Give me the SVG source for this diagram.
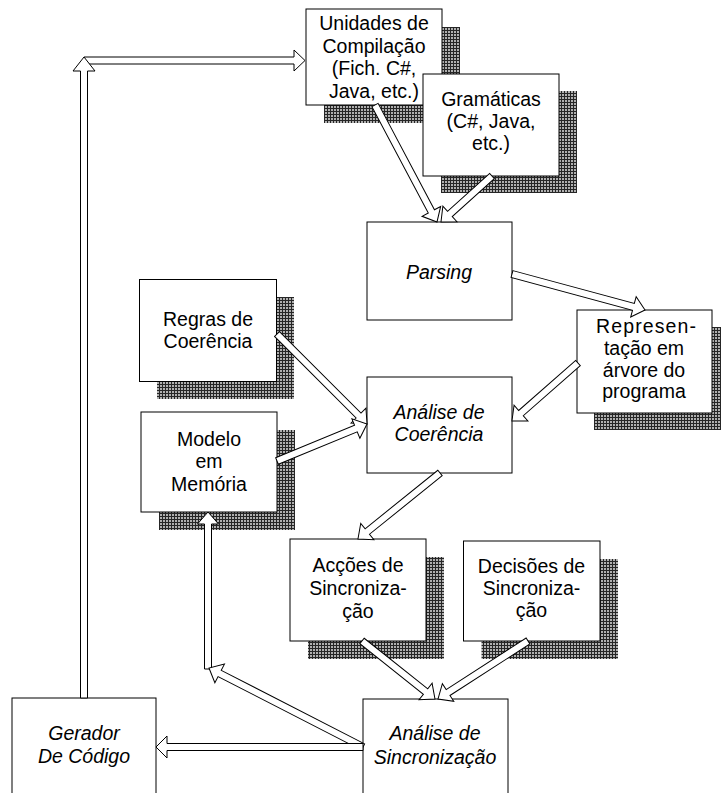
<svg xmlns="http://www.w3.org/2000/svg" width="721" height="793" viewBox="0 0 721 793">
<defs>
<pattern id="hatch" width="3" height="3" patternUnits="userSpaceOnUse">
<rect width="3" height="3" fill="#b0b0b0"/>
<rect width="3" height="1" fill="#262626"/>
<rect width="1" height="3" fill="#262626"/>
</pattern>
</defs>
<style>
.box{fill:#fff;stroke:#000;stroke-width:1}
.shadow{fill:url(#hatch)}
.t{font-family:"Liberation Sans",Arial,sans-serif;font-size:19.5px;fill:#000;text-anchor:middle}
.i{font-style:italic}
.arr{fill:#fff;stroke:#000;stroke-width:1;stroke-linejoin:miter}
</style>
<rect width="721" height="793" fill="#fff"/>

<g id="unidades">
<rect class="shadow" x="324" y="27" width="136" height="96"/>
<rect class="box" x="306" y="9" width="136" height="96"/>
<text class="t" x="374" y="30">Unidades de</text>
<text class="t" x="374" y="52.5">Compilação</text>
<text class="t" x="374" y="75">(Fich. C#,</text>
<text class="t" x="374" y="97.5">Java, etc.)</text>
</g>

<g id="gramaticas">
<rect class="shadow" x="441" y="91" width="136" height="102"/>
<rect class="box" x="423" y="74" width="136" height="102"/>
<text class="t" x="491" y="106">Gramáticas</text>
<text class="t" x="491" y="128">(C#, Java,</text>
<text class="t" x="491" y="150">etc.)</text>
</g>

<g id="parsing">
<rect class="box" x="367" y="222" width="145" height="98"/>
<text class="t i" x="439" y="279">Parsing</text>
</g>

<g id="representacao">
<rect class="shadow" x="594" y="327" width="135" height="103"/>
<rect class="box" x="577" y="310" width="135" height="103"/>
<text class="t" x="646" y="333" textLength="100" lengthAdjust="spacing">Represen-</text>
<text class="t" x="644" y="355">tação em</text>
<text class="t" x="644" y="377">árvore do</text>
<text class="t" x="644" y="398">programa</text>
</g>

<g id="regras">
<rect class="shadow" x="157" y="297" width="137" height="102"/>
<rect class="box" x="139.5" y="279.5" width="137" height="102"/>
<text class="t" x="208" y="326">Regras de</text>
<text class="t" x="208" y="348">Coerência</text>
</g>

<g id="analise-coerencia">
<rect class="box" x="367" y="377" width="145" height="96"/>
<text class="t i" x="439" y="419">Análise de</text>
<text class="t i" x="439" y="441">Coerência</text>
</g>

<g id="modelo">
<rect class="shadow" x="159" y="430" width="136" height="100"/>
<rect class="box" x="141" y="412" width="136" height="100"/>
<text class="t" x="209" y="446">Modelo</text>
<text class="t" x="209" y="468">em</text>
<text class="t" x="209" y="491">Memória</text>
</g>

<g id="accoes">
<rect class="shadow" x="308" y="557" width="136" height="102"/>
<rect class="box" x="290" y="539" width="136" height="102"/>
<text class="t" x="358" y="572">Acções de</text>
<text class="t" x="358" y="595">Sincroniza-</text>
<text class="t" x="358" y="618">ção</text>
</g>

<g id="decisoes">
<rect class="shadow" x="481.5" y="559" width="136.5" height="100"/>
<rect class="box" x="463.5" y="541" width="136.5" height="100"/>
<text class="t" x="531.5" y="573">Decisões de</text>
<text class="t" x="531.5" y="595">Sincroniza-</text>
<text class="t" x="531.5" y="617">ção</text>
</g>

<g id="analise-sincronizacao">
<rect class="box" x="363" y="699" width="145" height="110"/>
<text class="t i" x="435" y="740">Análise de</text>
<text class="t i" x="435" y="764">Sincronização</text>
</g>

<g id="gerador">
<rect class="box" x="12" y="698" width="144" height="110"/>
<text class="t i" x="84" y="740">Gerador</text>
<text class="t i" x="84" y="763">De Código</text>
</g>

<g id="connectors">
<polygon class="arr" transform="translate(84,60.5)" points="0,-3.5 210,-3.5 210,-10.5 221,0 210,10.5 210,3.5 0,3.5"/>
<polygon class="arr" transform="translate(84,698) rotate(-90)" points="0,-3.5 627,-3.5 627,-11 641,0 627,11 627,3.5 0,3.5"/>
<polygon class="arr" transform="translate(375,105) rotate(62.08)" points="0,-3.5 120.4,-3.5 120.4,-10.5 132.4,0 120.4,10.5 120.4,3.5 0,3.5"/>
<polygon class="arr" transform="translate(492,176) rotate(137.95)" points="0,-3.5 56.7,-3.5 56.7,-10.5 68.7,0 56.7,10.5 56.7,3.5 0,3.5"/>
<polygon class="arr" transform="translate(512,274) rotate(15.15)" points="0,-3.5 125.8,-3.5 125.8,-10.5 137.8,0 125.8,10.5 125.8,3.5 0,3.5"/>
<polygon class="arr" transform="translate(578,363) rotate(138.69)" points="0,-3.5 75.9,-3.5 75.9,-10.5 87.9,0 75.9,10.5 75.9,3.5 0,3.5"/>
<polygon class="arr" transform="translate(277,334) rotate(45)" points="0,-3.5 115.3,-3.5 115.3,-10.5 127.3,0 115.3,10.5 115.3,3.5 0,3.5"/>
<polygon class="arr" transform="translate(277,461) rotate(-22.35)" points="0,-3.5 85.3,-3.5 85.3,-10.5 97.3,0 85.3,10.5 85.3,3.5 0,3.5"/>
<polygon class="arr" transform="translate(440,473) rotate(141.17)" points="0,-3.5 93.3,-3.5 93.3,-10.5 105.3,0 93.3,10.5 93.3,3.5 0,3.5"/>
<polygon class="arr" transform="translate(362,641) rotate(38.47)" points="0,-3.5 81.2,-3.5 81.2,-10.5 93.2,0 81.2,10.5 81.2,3.5 0,3.5"/>
<polygon class="arr" transform="translate(528,641) rotate(147.2)" points="0,-3.5 95.1,-3.5 95.1,-10.5 107.1,0 95.1,10.5 95.1,3.5 0,3.5"/>
<polygon class="arr" transform="translate(208,669) rotate(-90)" points="0,-3.5 145,-3.5 145,-10.5 157,0 145,10.5 145,3.5 0,3.5"/>
<polygon class="arr" transform="translate(363,747) rotate(-152.84)" points="0,-3.5 161.1,-3.5 161.1,-10.5 173.1,0 161.1,10.5 161.1,3.5 0,3.5"/>
<polygon class="arr" transform="translate(363,747) rotate(180)" points="0,-3.5 196,-3.5 196,-11 207,0 196,11 196,3.5 0,3.5"/>
</g>
</svg>
